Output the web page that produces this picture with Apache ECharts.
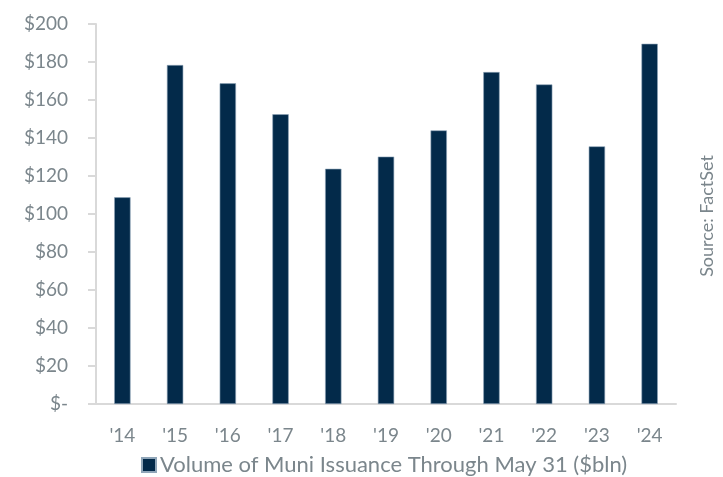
<!DOCTYPE html>
<html>
<head>
<meta charset="utf-8">
<script src="https://cdn.jsdelivr.net/npm/echarts@6/dist/echarts.min.js"></script>
<style>html,body{margin:0;padding:0;background:#fff;}#c{width:723px;height:477px;}</style>
</head>
<body>
<div id="c"></div>
<script>
const categories = ["'14","'15","'16","'17","'18","'19","'20","'21","'22","'23","'24"];
const issuance = [108.8, 178.4, 168.8, 152.5, 123.8, 130.2, 144.0, 174.7, 168.2, 135.6, 189.6];
const seriesName = "Volume of Muni Issuance Through May 31 ($bln)";
const sourceText = "Source: FactSet";

const chart = echarts.init(document.getElementById('c'), null, {renderer: 'canvas'});
const font = 'Lato, "Noto Sans", sans-serif';
const gray = '#7b868c';
chart.setOption({
  animation: false,
  grid: {left: 96, right: 47, top: 24, bottom: 73},
  legend: {
    left: 141, top: 454, padding: 0,
    icon: 'rect', itemWidth: 14, itemHeight: 14, itemGap: 5,
    textStyle: {color: gray, fontSize: 22, fontFamily: font, padding: [0, 0, 0, -1]},
    data: [seriesName]
  },
  graphic: [{
    type: 'text', rotation: Math.PI / 2,
    x: 707, y: 216,
    style: {text: sourceText, fill: gray, font: '18px ' + font, textAlign: 'center', textVerticalAlign: 'middle'}
  }],
  xAxis: {
    type: 'category', data: categories,
    axisLine: {lineStyle: {color: '#d9d9d9', width: 2}},
    axisTick: {show: false},
    axisLabel: {color: gray, fontSize: 19, fontFamily: font, margin: 22}
  },
  yAxis: {
    type: 'value', min: 0, max: 200, interval: 20,
    axisLine: {show: true, lineStyle: {color: '#d9d9d9', width: 2}},
    axisTick: {show: true, length: 8, lineStyle: {color: '#d9d9d9', width: 2}},
    splitLine: {show: false},
    axisLabel: {
      color: gray, fontSize: 19, fontFamily: font, margin: 28,
      formatter: v => v === 0 ? '$-' : '$' + v
    }
  },
  series: [{
    name: seriesName, type: 'bar', data: issuance, barWidth: '31%',
    itemStyle: {color: '#032a4a', borderColor: '#8fa5b8', borderWidth: 0.6}
  }]
});
</script>
</body>
</html>
